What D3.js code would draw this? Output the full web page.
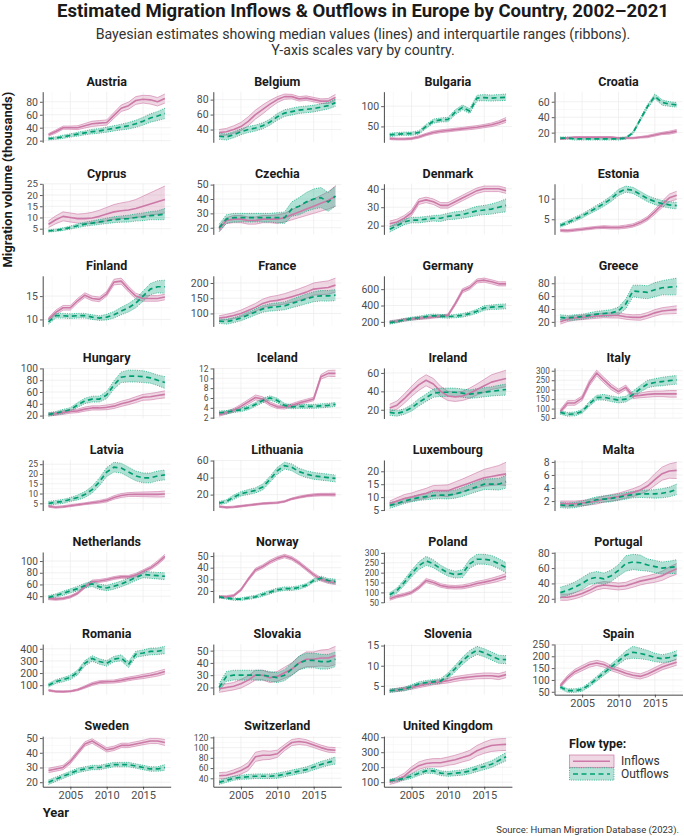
<!DOCTYPE html>
<html><head><meta charset="utf-8">
<script src="https://cdn.jsdelivr.net/npm/d3@7"></script>
<style>body{margin:0;background:#fff} svg{display:block} text{font-family:Roboto,"Noto Sans",sans-serif}</style>
</head><body><svg id="chart" width="684" height="836"></svg>
<script>
// ---------------- DATA ----------------
const years = [2002,2003,2004,2005,2006,2007,2008,2009,2010,2011,2012,2013,2014,2015,2016,2017,2018];
const xTicks = [2005, 2010, 2015];
const countries = ["Austria","Belgium","Bulgaria","Croatia","Cyprus","Czechia","Denmark","Estonia",
  "Finland","France","Germany","Greece","Hungary","Iceland","Ireland","Italy",
  "Latvia","Lithuania","Luxembourg","Malta","Netherlands","Norway","Poland","Portugal",
  "Romania","Slovakia","Slovenia","Spain","Sweden","Switzerland","United Kingdom"];

// y-axis tick labels per country (same order as countries)
const yTicks = [
  [20,40,60,80],[40,60,80],[50,100],[20,40,60],
  [5,10,15,20,25],[20,30,40,50],[20,30,40],[5,10],
  [10,15],[100,150,200],[200,400,600],[20,40,60,80],
  [20,40,60,80,100],[2,4,6,8,10,12],[20,40,60],[50,100,150,200,250,300],
  [5,10,15,20,25],[20,40,60],[5,10,15,20],[2,4,6,8],
  [40,60,80,100],[20,30,40,50],[50,100,150,200,250,300],[20,40,60,80],
  [100,200,300,400],[20,30,40,50],[5,10,15],[50,100,150,200,250],
  [20,30,40,50],[40,60,80,100,120],[100,200,300,400]
];

// Inflows: median (thousands)
const inflowMedian = [
  [29,34,40,40,40,43,46,47,48,59,70,74,82,84,83,80,85],            // Austria
  [36,37,40,44,51,60,67,74,80,84,84,81,82,80,78,78,83],            // Belgium
  [20,19,19,20,24,30,35,38,40,42,44,46,48,51,54,59,66],            // Bulgaria
  [12,13,14,14,14,14,14,14,13,13,13,14,15,17,19,20,22],            // Croatia
  [7,9,10.5,10,9.5,9.5,9.8,10.5,11.5,12.5,13,13.3,14,15,16,17,18], // Cyprus
  [19,25,26,26,25,25,26,26,26,27,29,31,33,35,37,39,42],            // Czechia
  [21,22,24,27,33,34,33,31,31,33,35,37,39,40,40,40,39],            // Denmark
  [2.3,2.2,2.4,2.6,2.8,3.0,3.1,3.0,3.0,3.2,3.5,4.2,5.2,6.8,8.6,10.2,10.8], // Estonia
  [10,11.5,12.5,12.5,14,15.2,14.5,14.3,15.5,18,18.2,16.5,15,14.5,14.5,14.5,14.8], // Finland
  [85,88,93,100,110,120,133,140,143,148,155,162,170,180,183,185,193], // France
  [200,210,225,235,245,250,260,270,280,420,580,620,700,710,690,665,665], // Germany
  [20,24,26,27,28,29,30,30,30,28,27,27,30,34,37,38,39],            // Greece
  [22,23,25,27,28,31,33,33,34,36,40,43,47,51,52,54,56],            // Hungary
  [2.6,3.0,3.5,4.3,5.2,6.1,5.8,4.8,4.2,4.1,4.5,5.0,5.4,5.8,10.3,11,11], // Iceland
  [22,25,32,40,47,52,48,40,35,34,35,38,42,46,50,52,54],            // Ireland
  [85,130,130,155,235,288,250,215,190,212,166,170,175,178,178,178,178], // Italy
  [3.5,3.0,3.3,3.8,4.3,4.8,5.3,5.8,6.5,8,9,9.5,9.6,9.6,9.6,9.6,9.8], // Latvia
  [6,5,5.5,6.5,7.5,8.5,9.5,10,10.5,12,15,17,18.5,19.5,20,20,20],   // Lithuania
  [7.5,8.5,9.5,10,10.8,11.5,12.5,12.5,12.5,13.5,14.5,15.5,16.5,17.5,18,18.5,19], // Luxembourg
  [1.6,1.6,1.6,1.7,1.8,2.0,2.3,2.5,2.7,3.0,3.3,3.7,4.3,5.3,6.2,6.6,6.7], // Malta
  [36,35,36,39,45,56,65,66,68,71,73,73,76,82,88,97,108],           // Netherlands
  [15,15,16,21,30,38,41,45,48,50,48,44,39,34,30,28,27],            // Norway
  [68,80,88,100,125,160,150,135,128,126,128,135,145,152,160,170,182], // Poland
  [22,22,24,27,31,36,38,37,36,37,40,43,45,47,50,55,59],            // Portugal
  [58,48,47,50,62,85,110,125,128,130,140,152,162,172,182,195,212], // Romania
  [19,20,21,23,26,30,30,28,29,32,35,40,43,43,44,44,46],            // Slovakia
  [3.8,4.0,4.3,4.6,5.0,5.4,5.8,6.0,6.3,6.7,7.0,7.2,7.4,7.5,7.5,7.3,7.8], // Slovenia
  [75,110,135,150,165,172,165,150,140,128,120,115,125,140,155,165,175], // Spain
  [28,29,30,34,40,46,48,45,42,43,45,45,46,47,48,48,47],            // Sweden
  [45,46,50,55,63,82,85,85,88,100,110,112,110,105,100,96,95],      // Switzerland
  [100,115,140,180,210,225,230,230,240,250,265,280,310,330,345,350,352] // United Kingdom
];
// Inflows: interquartile range width
const inflowIQR = [
  [4,5,5,5,6,7,8,8,8,9,10,11,12,12,13,13,14],
  [8,9,10,11,12,12,12,10,8,7,6,6,6,6,6,7,8],
  [5,5,5,5,6,6,7,7,7,7,7,8,8,8,9,10,12],
  [2,2,2,2,2,2,2,2,2,2,2,2,3,3,3,4,4],
  [3,3.5,4,4,4,4.5,5,5.5,6,6.5,7,7.5,8,9,10,11,12],
  [4,4,5,5,5,5,5,5,6,6,7,8,9,10,11,12,14],
  [3,3,3,3,3,3,3,3,3,3,3,3,3,3,3,3,3],
  [0.6,0.6,0.6,0.6,0.6,0.6,0.7,0.7,0.7,0.8,0.8,0.9,1,1.2,1.5,1.8,2],
  [0.8,1,1,1,1,1,1,1,1,1.2,1.3,1.2,1.2,1.2,1.2,1.2,1.2],
  [15,18,20,22,24,26,28,30,32,34,36,38,40,40,42,44,46],
  [30,30,30,30,30,30,30,30,30,40,50,50,50,50,50,50,50],
  [7,7,7,7,7,7,7,8,8,8,8,9,9,10,10,11,12],
  [5,5,6,6,6,7,7,7,8,8,9,9,10,10,11,11,12],
  [0.6,0.6,0.7,0.8,0.9,1,0.9,0.8,0.7,0.7,0.7,0.7,0.7,0.7,0.9,1.2,1.3],
  [8,9,10,11,12,12,12,11,10,10,10,11,12,14,16,17,18],
  [20,25,25,25,30,30,30,30,25,25,25,25,30,30,30,35,35],
  [1,1,1,1,1,1,1.2,1.4,1.6,1.8,2,2,2.2,2.4,2.6,2.8,3],
  [2,2,2,2,2,2,2,2,2,2,2,2.5,2.5,3,3,3,3.5],
  [2,2.5,3,3.2,3.5,3.8,4,4.2,4.5,4.8,5,5.5,6,6.5,7,7.5,9],
  [0.8,0.8,0.8,0.8,0.8,0.9,0.9,1,1,1.1,1.2,1.3,1.5,1.8,2,2.2,2.5],
  [4,4,4,4,4,5,5,5,5,5,5,5,6,6,6,7,7],
  [2,2,2,2,2.5,3,3,3,3,3,3,3,3,3,3,3,3],
  [16,15,15,15,18,20,20,18,18,18,20,20,22,22,24,26,28],
  [8,8,8,8,8,9,9,9,9,9,10,10,10,11,12,13,14],
  [15,12,12,12,15,20,25,25,25,25,30,30,30,35,35,40,40],
  [6,6,6,7,7,8,8,8,8,9,10,11,12,12,13,14,15],
  [0.8,0.8,0.8,0.9,0.9,1,1,1,1.1,1.2,1.2,1.3,1.3,1.4,1.4,1.5,1.5],
  [15,18,20,22,22,22,22,22,22,22,22,22,24,25,25,25,26],
  [3,3,3,3,3,3,3,3,3,3,3,3,3,3,3.5,3.5,4],
  [12,12,13,14,16,18,18,16,14,12,12,12,11,10,10,10,10],
  [30,35,40,45,50,50,55,55,55,60,60,65,70,75,80,80,80]
];
// Outflows: median (thousands)
const outflowMedian = [
  [23,24,26,28,30,32,34,35,37,39,41,43,46,50,55,58,62],            // Austria
  [31,30,33,37,40,42,45,50,57,62,64,66,67,68,70,72,76],            // Belgium
  [29,31,32,32,35,50,63,66,67,85,97,88,120,121,120,121,122],       // Bulgaria
  [13,13,12,12,12,12,12,12,12,13,20,37,54,67,59,57,56],            // Croatia
  [4,4.3,4.8,5.5,6.3,7,7.5,8,8.5,9,9.3,9.5,10,10.3,10.8,11,11.5],  // Cyprus
  [20,26,27,27,27,27,27,27,27,27,33,35,38,40,41,38,42],            // Czechia
  [18,20,22,23,23,23.5,24,24,25,25.5,26,27,28,28.5,29,30,31],      // Denmark
  [3.5,4.2,5.0,5.8,6.8,7.8,8.8,10,11.5,12.3,12,11,10,9.3,8.8,8.5,8.3], // Estonia
  [9.5,10.8,10.8,10.7,10.8,10.8,10.5,10.3,10.5,11,11.8,12.5,13.5,15,16.5,17,17], // Finland
  [75,73,78,85,95,105,115,120,122,125,133,140,148,155,158,158,160], // France
  [190,205,225,240,250,265,275,270,265,270,280,300,330,370,380,385,390], // Germany
  [27,26,27,28,30,32,33,34,37,48,68,67,66,70,73,74,75],            // Greece
  [22,24,27,30,38,45,48,48,55,72,85,87,87,86,84,80,76],            // Hungary
  [3.0,3.1,3.4,3.6,4.0,4.7,5.5,6.0,5.5,4.5,4.2,4.3,4.3,4.3,4.4,4.5,4.7], // Iceland
  [17,16,18,22,28,33,38,39,39,39,38,37,38,39,40,41,42],            // Ireland
  [80,70,72,85,125,158,160,152,145,150,175,205,230,238,243,248,252], // Italy
  [5,5.5,6,7,8,9.5,12,16,21,23.5,23,21,19,18,18,19,19.5],          // Latvia
  [10,12,17,21,23,25,29,38,48,54,52,47,44,42,41,40,39],            // Lithuania
  [6.8,7.5,8.5,9.2,9.8,10.2,10.6,10.8,10.8,11.2,12,13,14,15,15,15,16], // Luxembourg
  [1.4,1.3,1.4,1.6,1.9,2.2,2.3,2.4,2.6,2.8,3.0,3.1,3.1,3.1,3.2,3.4,3.8], // Malta
  [38,41,45,49,53,58,61,56,54,57,61,66,72,77,76,75,74],            // Netherlands
  [15,14,13,13,14,15,17,19,21,22,22,23,25,29,31,29,28],            // Norway
  [88,110,150,195,235,260,245,220,200,190,195,245,268,268,262,245,225], // Poland
  [28,31,35,40,46,48,46,50,57,66,68,67,64,62,60,61,62],            // Portugal
  [100,130,145,165,205,280,320,295,280,315,325,270,355,365,378,380,390], // Romania
  [20,29,30,30,30,30,30,29,28,30,35,40,42,42,41,41,43],            // Slovakia
  [3.8,4.0,4.2,4.8,5.5,5.8,6.0,6.2,7.5,9.3,11.2,12.8,13.8,13.2,12.4,11.6,11.5], // Slovenia
  [70,55,55,60,80,105,130,155,180,205,217,212,205,195,190,195,205], // Spain
  [20,22,24,26,28,29,30,30,31,32,32,32,31,30,29,29,30],            // Sweden
  [32,36,40,42,43,44,44,44,45,48,51,54,57,62,67,71,75],            // Switzerland
  [110,115,125,140,160,175,175,160,155,160,165,175,190,205,220,245,270] // United Kingdom
];
// Outflows: interquartile range width
const outflowIQR = [
  [4,4,5,5,6,6,7,7,8,8,9,10,11,12,13,14,16],
  [8,8,8,8,8,8,8,8,9,9,9,9,9,9,9,9,10],
  [8,8,8,8,9,10,10,10,11,12,12,12,14,15,15,15,16],
  [3,3,3,3,3,3,3,3,3,3,3,4,5,6,7,6,6],
  [1,1,1.2,1.4,1.6,1.8,2,2.2,2.4,2.6,2.8,3,3.2,3.4,3.6,4,5],
  [5,6,6,6,6,6,6,6,7,8,10,12,13,14,14,13,14],
  [3,3,3,3,3,3,3,3.5,3.5,4,4,4.5,5,5,5.5,6,7],
  [0.8,0.9,1,1,1.1,1.2,1.3,1.4,1.5,1.5,1.5,1.5,1.5,1.5,1.5,1.5,1.6],
  [1,1,1,1,1,1,1,1,1.2,1.4,1.6,1.8,2,2.2,2.4,2.6,2.8],
  [15,16,17,18,19,20,22,24,25,26,28,30,32,33,34,35,36],
  [35,35,35,35,40,40,40,40,40,40,45,45,50,55,55,60,60],
  [8,8,8,8,8,9,9,10,12,15,18,20,20,22,22,24,26],
  [6,6,7,7,8,9,10,10,12,14,18,20,20,20,18,18,20],
  [0.7,0.7,0.7,0.7,0.8,0.8,0.9,0.9,0.9,0.8,0.8,0.8,0.8,0.8,0.8,0.8,0.8],
  [6,6,6,7,8,8,9,9,9,9,9,9,10,10,10,11,12],
  [20,20,20,20,25,25,30,30,30,30,35,35,40,40,45,45,45],
  [2,2,2,2,2.5,3,3.5,4,4.5,5,5,5,5,5,5,5,5],
  [4,4,5,5,6,6,7,7,8,8,8,8,8,8,8,8,8],
  [2.2,1.8,2,2,2.2,2.4,2.6,2.8,3,3.2,3.4,3.6,3.8,4,4.2,4.5,5],
  [0.8,0.8,0.8,0.8,0.9,0.9,1,1,1,1,1,1.1,1.2,1.3,1.4,1.5,1.6],
  [6,6,7,7,8,8,9,9,9,10,10,10,10,11,11,11,12],
  [2,2,2,2,2.5,2.5,3,3,3,3,3,3,3,3,3.5,3.5,4],
  [20,25,30,35,40,45,40,35,35,35,40,45,50,50,50,50,50],
  [14,14,14,15,15,15,15,15,15,20,20,20,16,16,16,16,18],
  [30,30,35,35,40,45,45,45,45,45,50,50,50,50,55,55,60],
  [6,8,8,8,8,8,8,8,8,9,10,11,12,12,12,12,12],
  [0.8,0.8,0.9,1,1,1.1,1.1,1.2,1.4,1.6,1.8,2,2,2,2,2,2],
  [15,15,15,15,18,20,22,25,28,35,50,45,40,35,34,36,38],
  [3,3,3,3,3,3,3,3,3,3,3,3,3,3,3,3,4],
  [8,8,8,8,9,9,9,9,10,10,10,10,11,11,12,12,14],
  [20,22,25,28,30,32,32,32,32,34,36,38,40,42,45,50,55]
];

// ---------------- STYLE / LAYOUT ----------------
const W = 684, H = 836;
const inColor = "#CC79A7", outColor = "#009E73";
const panelW = 128, panelH = 50.6, colStep = 170.6, rowStep = 92.06, left0 = 42.7, top0 = 91.7;
const svg = d3.select("#chart");
svg.append("rect").attr("width", W).attr("height", H).attr("fill", "#fff");

const x = d3.scaleLinear().domain([2001.2, 2018.8]).range([0, panelW]);

function series(med, iqr) {
  return years.map((yr, k) => ({ year: yr, mid: med[k], lo: med[k] - iqr[k] / 2, hi: med[k] + iqr[k] / 2 }));
}

countries.forEach((name, i) => {
  const col = i % 4, row = Math.floor(i / 4);
  const g = svg.append("g").attr("transform", `translate(${left0 + col * colStep},${top0 + row * rowStep})`);
  const inS = series(inflowMedian[i], inflowIQR[i]);
  const outS = series(outflowMedian[i], outflowIQR[i]);
  const all = inS.concat(outS);
  const mn = d3.min(all, d => d.lo), mx = d3.max(all, d => d.hi);
  const pad = (mx - mn) * 0.05;
  const y = d3.scaleLinear().domain([mn - pad, mx + pad]).range([panelH, 0]);
  const ticks = yTicks[i].filter(t => t >= mn - pad && t <= mx + pad);
  const spacing = ticks.length > 1 ? Math.abs(y(ticks[0]) - y(ticks[1])) : 20;
  const tickFont = Math.max(7.2, Math.min(10.5, spacing / 1.16));

  // grid
  const grid = g.append("g");
  const minorY = [];
  for (let k = 0; k < yTicks[i].length - 1; k++) minorY.push((yTicks[i][k] + yTicks[i][k + 1]) / 2);
  grid.selectAll(".my").data(minorY.filter(t => t >= mn - pad && t <= mx + pad)).join("line")
    .attr("x1", 0).attr("x2", panelW).attr("y1", d => y(d)).attr("y2", d => y(d))
    .attr("stroke", "#f3f3f3").attr("stroke-width", 0.5);
  grid.selectAll(".mx").data([2002.5, 2007.5, 2012.5, 2017.5]).join("line")
    .attr("x1", d => x(d)).attr("x2", d => x(d)).attr("y1", 0).attr("y2", panelH)
    .attr("stroke", "#f3f3f3").attr("stroke-width", 0.5);
  grid.selectAll(".gy").data(ticks).join("line")
    .attr("x1", 0).attr("x2", panelW).attr("y1", d => y(d)).attr("y2", d => y(d))
    .attr("stroke", "#ebebeb").attr("stroke-width", 0.7);
  grid.selectAll(".gx").data(xTicks).join("line")
    .attr("x1", d => x(d)).attr("x2", d => x(d)).attr("y1", 0).attr("y2", panelH)
    .attr("stroke", "#ebebeb").attr("stroke-width", 0.7);

  const area = d3.area().x(d => x(d.year)).y0(d => y(d.lo)).y1(d => y(d.hi));
  const lineMid = d3.line().x(d => x(d.year)).y(d => y(d.mid));
  const lineLo = d3.line().x(d => x(d.year)).y(d => y(d.lo));
  const lineHi = d3.line().x(d => x(d.year)).y(d => y(d.hi));

  // ribbons
  g.append("path").datum(inS).attr("d", area).attr("fill", inColor).attr("fill-opacity", 0.3);
  [lineLo, lineHi].forEach(f => g.append("path").datum(inS).attr("d", f)
    .attr("fill", "none").attr("stroke", inColor).attr("stroke-width", 0.6));
  g.append("path").datum(outS).attr("d", area).attr("fill", outColor).attr("fill-opacity", 0.3);
  [lineLo, lineHi].forEach(f => g.append("path").datum(outS).attr("d", f)
    .attr("fill", "none").attr("stroke", outColor).attr("stroke-width", 0.7).attr("stroke-dasharray", "1,1.3"));
  // medians
  g.append("path").datum(inS).attr("d", lineMid).attr("fill", "none")
    .attr("stroke", inColor).attr("stroke-width", 1.6).attr("stroke-linejoin", "round");
  g.append("path").datum(outS).attr("d", lineMid).attr("fill", "none")
    .attr("stroke", outColor).attr("stroke-width", 1.7).attr("stroke-dasharray", "5,3.5");

  // y axis
  const ya = g.append("g").call(d3.axisLeft(y).tickValues(ticks).tickSize(2.75).tickSizeOuter(0).tickPadding(2));
  ya.select(".domain").attr("stroke", "#333").attr("stroke-width", 0.9);
  ya.selectAll(".tick line").attr("stroke", "#333").attr("stroke-width", 0.8);
  ya.selectAll("text").attr("font-size", tickFont).attr("fill", "#4d4d4d").attr("font-family", "Roboto");

  // strip title
  g.append("text").attr("x", panelW / 2).attr("y", -6).attr("text-anchor", "middle")
    .attr("font-size", 12.5).attr("font-weight", 700).attr("fill", "#1a1a1a").text(name);

  // x axis on bottom panels
  if (row === 7 || (row === 6 && col === 3)) {
    const xa = g.append("g").attr("transform", `translate(0,${panelH})`)
      .call(d3.axisBottom(x).tickValues(xTicks).tickFormat(d3.format("d")).tickSize(2.75).tickSizeOuter(0).tickPadding(2));
    xa.select(".domain").attr("stroke", "#333").attr("stroke-width", 0.9);
    xa.selectAll(".tick line").attr("stroke", "#333").attr("stroke-width", 0.8);
    xa.selectAll("text").attr("font-size", 11).attr("fill", "#4d4d4d").attr("font-family", "Roboto");
  }
});

// titles
svg.append("text").attr("x", 363).attr("y", 17).attr("text-anchor", "middle")
  .attr("font-size", 18).attr("font-weight", 700).attr("fill", "#1a1a1a")
  .attr("textLength", 612).attr("lengthAdjust", "spacingAndGlyphs")
  .text("Estimated Migration Inflows & Outflows in Europe by Country, 2002–2021");
svg.append("text").attr("x", 363).attr("y", 39).attr("text-anchor", "middle")
  .attr("font-size", 14.2).attr("fill", "#333")
  .text("Bayesian estimates showing median values (lines) and interquartile ranges (ribbons).");
svg.append("text").attr("x", 363).attr("y", 55).attr("text-anchor", "middle")
  .attr("font-size", 14.2).attr("fill", "#333").text("Y-axis scales vary by country.");

// axis titles
svg.append("text").attr("transform", `translate(12,${top0}) rotate(-90)`).attr("text-anchor", "end")
  .attr("font-size", 13).attr("font-weight", 700).attr("fill", "#1a1a1a").text("Migration volume (thousands)");
svg.append("text").attr("x", left0).attr("y", 817).attr("font-size", 13).attr("font-weight", 700)
  .attr("fill", "#1a1a1a").text("Year");

// source
svg.append("text").attr("x", 679).attr("y", 833).attr("text-anchor", "end")
  .attr("font-size", 9.5).attr("fill", "#333").text("Source: Human Migration Database (2023).");

// legend
const lg = svg.append("g").attr("transform", "translate(569,735)");
lg.append("text").attr("x", 0).attr("y", 13).attr("font-size", 12.5).attr("font-weight", 700)
  .attr("fill", "#1a1a1a").text("Flow type:");
const legendItems = [{ label: "Inflows", color: inColor, dash: null, border: null },
                     { label: "Outflows", color: outColor, dash: "5,3.5", border: "1,1.3" }];
legendItems.forEach((d, k) => {
  const ky = 20 + k * 12.8;
  lg.append("rect").attr("x", 0.5).attr("y", ky).attr("width", 44.5).attr("height", 12.3)
    .attr("fill", d.color).attr("fill-opacity", 0.3).attr("stroke", d.color).attr("stroke-width", 0.7)
    .attr("stroke-dasharray", d.border);
  lg.append("line").attr("x1", 4).attr("x2", 41).attr("y1", ky + 6.2).attr("y2", ky + 6.2)
    .attr("stroke", d.color).attr("stroke-width", 1.6).attr("stroke-dasharray", d.dash);
  lg.append("text").attr("x", 52).attr("y", ky + 10.3).attr("font-size", 12).attr("fill", "#333").text(d.label);
});
</script></body></html>
